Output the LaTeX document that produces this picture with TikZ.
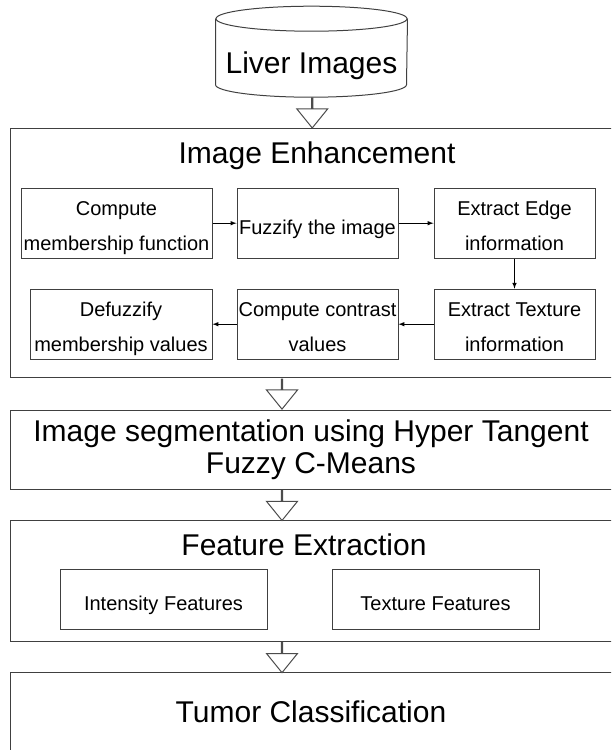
\documentclass[tikz,border=0pt]{standalone}
\usepackage{fontspec}
\setmainfont{Liberation Sans}
\usetikzlibrary{positioning,calc,shapes.arrows}

\begin{document}
\begin{tikzpicture}[
  x=1pt, y=-1pt,
  line width=1pt,
  store/.style={rectangle, minimum width=191pt, minimum height=90pt,
                inner sep=0pt},
  dbline/.style={draw=black!75},
  stage/.style={rectangle, draw=black!75, minimum width=602pt,
                font=\fontsize{30}{32.3}\selectfont, align=center},
  heading/.style={font=\fontsize{30}{32.3}\selectfont, anchor=base},
  task/.style={rectangle, draw=black!75, minimum height=70pt, inner sep=1pt,
               font=\fontsize{20}{35}\selectfont, align=center,
               text height=55.4pt, text depth=0pt},
  feat/.style={rectangle, draw=black!75, minimum width=207pt,
               minimum height=60pt, font=\fontsize{20}{24}\selectfont,
               text height=21.4pt, text depth=0pt},
  flow/.style={draw=black, -latex},
  bigarrow/.style={single arrow, draw=black!70, fill=white,
                   shape border rotate=270, minimum width=31pt,
                   minimum height=30pt, inner sep=0pt,
                   single arrow head extend=10.25pt,
                   single arrow tip angle=78}]

\clip (0,0) rectangle (611,750);

% input data
\node[store] (liver) at (311.5,51.7) {};
\draw[dbline] ([yshift=-12.5pt]liver.north) ellipse [x radius=95.5pt, y radius=12.5pt];
\draw[dbline] ([yshift=-12.5pt]liver.north west) -- ([yshift=12.5pt]liver.south west)
  arc [start angle=180, end angle=360, x radius=95.5pt, y radius=12.5pt]
  -- ([yshift=-12.5pt]liver.north east);
\node[heading] (livertxt) at (311.5,73) {Liver Images};

% image enhancement stage
\node[stage, minimum height=249pt] (enh) at (311,252.8) {};
\node[heading] (enhtitle) at (317,163.3) {Image Enhancement};

\node[task, minimum width=191pt] (memb) at (116.5,223.2) {Compute\\membership function};
\node[task, minimum width=161pt, text height=22.6pt, text depth=0pt,
      right=24pt of memb] (fuzz) {Fuzzify the image};
\node[task, minimum width=161pt, right=35pt of fuzz] (edge) {Extract Edge\\information};
\node[task, minimum width=161pt, below=30pt of edge] (text) {Extract Texture\\information};
\node[task, minimum width=161pt, left=35pt of text] (contr) {Compute contrast\\values};
\node[task, minimum width=182pt, left=24pt of contr] (defuz) {Defuzzify\\membership values};

\draw[flow] (memb) -- (fuzz);
\draw[flow] (fuzz) -- (edge);
\draw[flow] (edge) -- (text);
\draw[flow] (text) -- (contr);
\draw[flow] (contr) -- (defuz);

% segmentation
\node[stage, minimum height=79.3pt] (seg) at (311,449.7)
  {Image segmentation using Hyper Tangent\\Fuzzy C-Means};

% feature extraction stage
\node[stage, minimum height=121pt] (feat) at (311,581.2) {};
\node[heading] (feattitle) at (304,555) {Feature Extraction};
\node[feat] (inten) at (163.5,599.3) {Intensity Features};
\node[feat, right=64pt of inten] (textf) {Texture Features};

% classification
\node[stage, minimum height=78pt] (tumor) at (311,711.7) {Tumor Classification};

% block arrows between stages
\node[bigarrow] (a1) at ($(liver.south)!0.5!(enh.north)+(1,0)$) {};
\node[bigarrow] (a2) at ($(enh.south)!0.5!(seg.north)+(-29,0)$) {};
\node[bigarrow] (a3) at ($(seg.south)!0.5!(feat.north)+(-29,0)$) {};
\node[bigarrow] (a4) at ($(feat.south)!0.5!(tumor.north)+(-29,0)$) {};
\end{tikzpicture}
\end{document}
